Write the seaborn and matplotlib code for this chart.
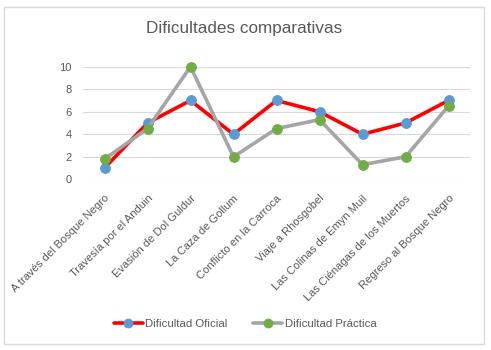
import matplotlib
matplotlib.use("Agg")
import matplotlib.pyplot as plt
from matplotlib.patches import Rectangle
import seaborn as sns
import pandas as pd

etapas = ["A través del Bosque Negro", "Travesía por el Anduin", "Evasión de Dol Guldur",
          "La Caza de Gollum", "Conflicto en la Carroca", "Viaje a Rhosgobel",
          "Las Colinas de Emyn Muil", "Las Ciénagas de los Muertos", "Regreso al Bosque Negro"]
oficial = [1, 5, 7, 4, 7, 6, 4, 5, 7]
practica = [1.8, 4.5, 10, 2, 4.5, 5.3, 1.3, 2, 6.5]

df = pd.DataFrame({"pos": range(len(etapas)), "oficial": oficial, "practica": practica})

sns.set_style("white")
plt.rcParams["font.family"] = ["Liberation Sans", "DejaVu Sans"]
txt = "#595959"

fig = plt.figure(figsize=(4.91, 3.5), dpi=100)
fig.patches.append(Rectangle((4 / 491, 1 - 344 / 350), 480 / 491, 337 / 350,
                             transform=fig.transFigure, fill=False,
                             edgecolor="#D9D9D9", linewidth=1))
ax = fig.add_axes([83 / 491, 1 - 179.3 / 350, 387 / 491, 112.6 / 350])

sns.lineplot(data=df, x="pos", y="oficial", ax=ax, color="#FF0000", linewidth=2.6,
             marker="o", markersize=7, markerfacecolor="#5B9BD5", markeredgecolor="#5B9BD5",
             label="Dificultad Oficial", clip_on=False, zorder=3)
sns.lineplot(data=df, x="pos", y="practica", ax=ax, color="#A5A5A5", linewidth=2.6,
             marker="o", markersize=7, markerfacecolor="#70AD47", markeredgecolor="#70AD47",
             label="Dificultad Práctica", clip_on=False, zorder=4)

ax.set_xlim(-0.5, len(etapas) - 0.5)
ax.set_ylim(0, 10)
ax.set_yticks([0, 2, 4, 6, 8, 10])
ax.yaxis.grid(True, color="#D9D9D9", linewidth=0.8)
ax.set_axisbelow(True)
for s in ax.spines.values():
    s.set_visible(False)
ax.set_xticks(range(len(etapas)))
ax.set_xticklabels(etapas, rotation=45, ha="right", rotation_mode="anchor")
ax.tick_params(axis="both", length=0, labelsize=8, labelcolor=txt)
ax.tick_params(axis="x", pad=10)
ax.tick_params(axis="y", pad=8)
ax.set_xlabel("")
ax.set_ylabel("")

handles, labels = ax.get_legend_handles_labels()
ax.get_legend().remove()
fig.legend(handles, labels, loc="center", bbox_to_anchor=(245 / 491, 1 - 324 / 350),
           ncol=2, frameon=False, fontsize=8.2, labelcolor=txt, markerscale=0.9,
           handlelength=2.6, handletextpad=0.2, columnspacing=2.2)

fig.text(244 / 491, 1 - 29 / 350, "Dificultades comparativas", ha="center", va="center",
         fontsize=12.3, color=txt)

fig.savefig("out.png", dpi=100)
